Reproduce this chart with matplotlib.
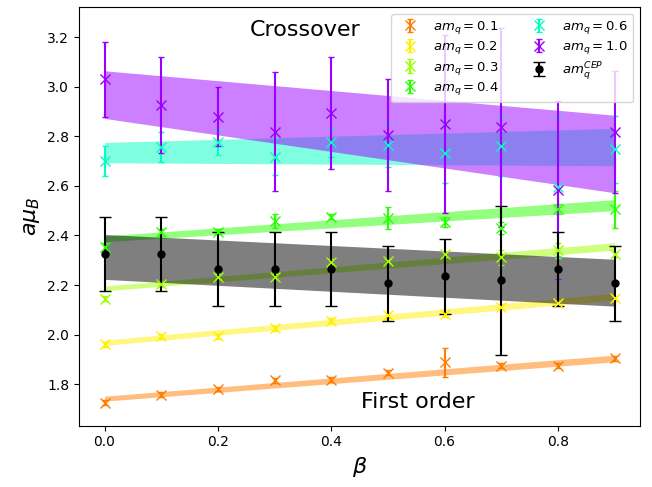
import numpy as np
import matplotlib
matplotlib.use('Agg')
import matplotlib.pyplot as plt

# データ
beta = np.array([0.0, 0.1, 0.2, 0.3, 0.4, 0.5, 0.6, 0.7, 0.8, 0.9])

mu_01 = [1.726, 1.757, 1.781, 1.817, 1.819, 1.846, 1.888, 1.875, 1.875, 1.904]
err_01 = [0.01, 0.01, 0.01, 0.01, 0.01, 0.01, 0.06, 0.01, 0.01, 0.01]
mu_02 = [1.962, 1.994, 1.994, 2.025, 2.056, 2.079, 2.083, 2.113, 2.127, 2.146]
err_02 = [0.01, 0.01, 0.01, 0.01, 0.01, 0.01, 0.01, 0.01, 0.01, 0.01]
mu_03 = [2.144, 2.204, 2.234, 2.234, 2.294, 2.297, 2.325, 2.312, 2.341, 2.325]
err_03 = [0.01, 0.01, 0.01, 0.01, 0.01, 0.01, 0.01, 0.03, 0.03, 0.01]
mu_04 = [2.354, 2.412, 2.415, 2.459, 2.475, 2.471, 2.455, 2.429, 2.506, 2.506]
err_04 = [0.015, 0.015, 0.01, 0.028, 0.01, 0.045, 0.02, 0.025, 0.02, 0.075]
mu_06 = [2.701, 2.758, 2.775, 2.717, 2.775, 2.765, 2.731, 2.760, 2.596, 2.747]
err_06 = [0.06, 0.06, 0.05, 0.075, 0.06, 0.09, 0.12, 0.12, 0.28, 0.135]
mu_10 = [3.029, 2.926, 2.879, 2.818, 2.895, 2.805, 2.849, 2.836, 2.583, 2.818]
err_10 = [0.15, 0.195, 0.12, 0.24, 0.225, 0.226, 0.36, 0.40, 0.36, 0.245]
mu_cep = [2.325, 2.325, 2.264, 2.264, 2.264, 2.207, 2.235, 2.220, 2.264, 2.207]
err_cep = [0.15, 0.15, 0.15, 0.15, 0.15, 0.15, 0.15, 0.30, 0.15, 0.15]

# 直線フィット (切片, 誤差, 傾き, 誤差)
fit_01 = (1.742, 0.010, 0.180, 0.004)
fit_02 = (1.9675, 0.0105, 0.2065, 0.0035)
fit_03 = (2.1865, 0.0095, 0.188, 0.006)
fit_04 = (2.3865, 0.0115, 0.151, 0.012)
fit_06 = (2.734, 0.041, 0.025, 0.038)
fit_10 = (2.968, 0.096, -0.266, 0.067)
fit_cep = (2.3135, 0.0905, -0.1155, 0.0045)

labels = [r'$am_q = 0.1$', r'$am_q = 0.2$', r'$am_q = 0.3$', r'$am_q = 0.4$',
          r'$am_q = 0.6$', r'$am_q = 1.0$']
colors = ['#ff7d00', '#fff000', '#9eff00', '#28ff00', '#00ffc3', '#9b00ff']

fig, ax = plt.subplots(figsize=(6.52, 4.87), dpi=100)
fig.subplots_adjust(left=0.1212, right=0.9816, bottom=0.1259, top=0.985)

series = [(mu_01, err_01, fit_01), (mu_02, err_02, fit_02), (mu_03, err_03, fit_03),
          (mu_04, err_04, fit_04), (mu_06, err_06, fit_06), (mu_10, err_10, fit_10)]

for (mu, err, fit), lab, c in zip(series, labels, colors):
    a, da, b, db = fit
    hi = (a + da) + (b + db) * beta
    lo = (a - da) + (b - db) * beta
    ax.fill_between(beta, lo, hi, color=c, alpha=0.5, lw=0)
    ax.errorbar(beta, mu, yerr=err, fmt='x', color=c, capsize=2.5, ms=7, label=lab)

# CEP
a, da, b, db = fit_cep
ax.fill_between(beta, (a - da) + (b - db) * beta, (a + da) + (b + db) * beta,
                color='k', alpha=0.5, lw=0)
ax.errorbar(beta, mu_cep, yerr=err_cep, fmt='o', color='k', capsize=4, ms=5,
            label=r'$am_q^{CEP}$')

ax.text(0.354, 3.23, 'Crossover', fontsize=16, ha='center', va='center')
ax.text(0.553, 1.728, 'First order', fontsize=16, ha='center', va='center')

ax.set_xlim(-0.045, 0.945)
ax.set_ylim(1.633, 3.32)
ax.set_xlabel(r'$\beta$', fontsize=16)
ax.set_ylabel(r'$a\mu_B$', fontsize=16)
ax.legend(loc='upper right', ncol=2, fontsize=9.5, labelspacing=0.25)

plt.savefig('out.png', dpi=100)
